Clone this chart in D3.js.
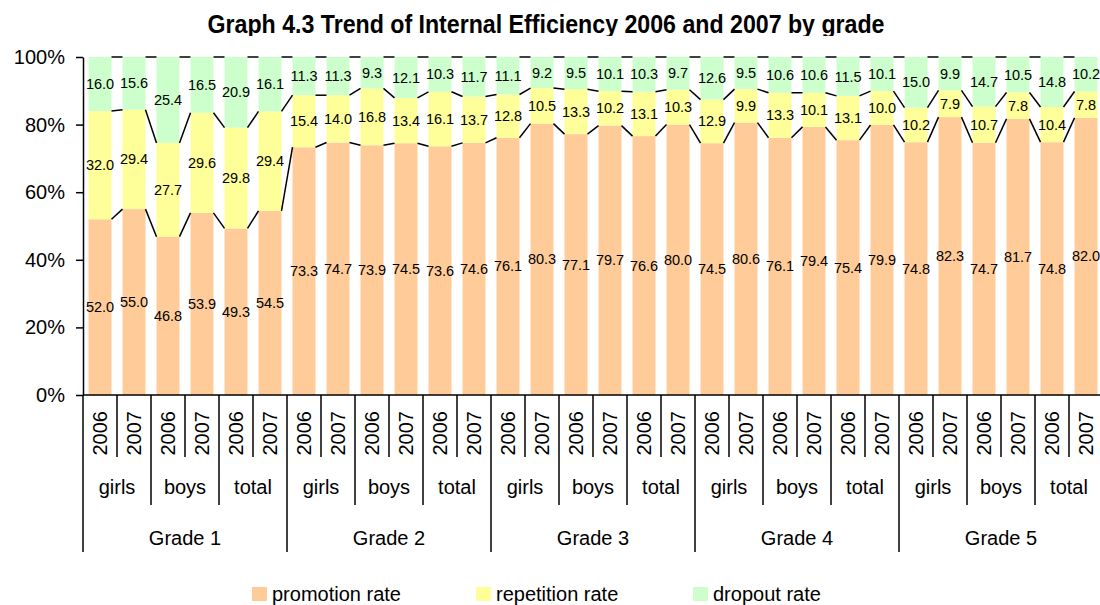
<!DOCTYPE html>
<html>
<head>
<meta charset="utf-8">
<script src="https://cdn.jsdelivr.net/npm/d3@7"></script>
<style>
  body { margin: 0; background: #fff; }
  svg { display: block; font-family: "Liberation Sans", Arial, sans-serif; }
</style>
</head>
<body>
<div id="chart"></div>
<script>
// categories
const grades = ["Grade 1", "Grade 2", "Grade 3", "Grade 4", "Grade 5"];
const groups = ["girls", "boys", "total"];
const years = ["2006", "2007"];

// series values, in bar order (grade > group > year)
const promotion = [
    52.0, 55.0, 46.8, 53.9, 49.3, 54.5,
    73.3, 74.7, 73.9, 74.5, 73.6, 74.6,
    76.1, 80.3, 77.1, 79.7, 76.6, 80.0,
    74.5, 80.6, 76.1, 79.4, 75.4, 79.9,
    74.8, 82.3, 74.7, 81.7, 74.8, 82.0
];
const repetition = [
    32.0, 29.4, 27.7, 29.6, 29.8, 29.4,
    15.4, 14.0, 16.8, 13.4, 16.1, 13.7,
    12.8, 10.5, 13.3, 10.2, 13.1, 10.3,
    12.9, 9.9, 13.3, 10.1, 13.1, 10.0,
    10.2, 7.9, 10.7, 7.8, 10.4, 7.8
];
const dropout = [
    16.0, 15.6, 25.4, 16.5, 20.9, 16.1,
    11.3, 11.3, 9.3, 12.1, 10.3, 11.7,
    11.1, 9.2, 9.5, 10.1, 10.3, 9.7,
    12.6, 9.5, 10.6, 10.6, 11.5, 10.1,
    15.0, 9.9, 14.7, 10.5, 14.8, 10.2
];

const seriesKeys = ["promotion", "repetition", "dropout"];
const seriesNames = ["promotion rate", "repetition rate", "dropout rate"];
const yTicks = [0, 0.2, 0.4, 0.6, 0.8, 1];

const colors = {promotion: "#FFCC99", repetition: "#FFFF99", dropout: "#CCFFCC"};

const width = 1100, height = 605;
const plotLeft = 83, plotRight = 1103, plotTop = 57, plotBottom = 395;

const rows = [];
grades.forEach(g => groups.forEach(s => years.forEach(yr => {
    const i = rows.length;
    rows.push({
        key: g + "|" + s + "|" + yr,
        grade: g, group: s, year: yr,
        promotion: promotion[i], repetition: repetition[i], dropout: dropout[i]
    });
})));

const svg = d3.select("#chart")
    .append("svg")
        .attr("width", width)
        .attr("height", height);

svg.append("rect")
    .attr("width", width)
    .attr("height", height)
    .attr("fill", "#fff");

const x = d3.scaleBand()
    .domain(rows.map(d => d.key))
    .range([plotLeft, plotRight])
    .paddingInner(0.324)
    .paddingOuter(0.162);

const y = d3.scaleLinear()
    .domain([0, 1])
    .range([plotBottom, plotTop]);

const stacked = d3.stack()
    .keys(seriesKeys)
    .offset(d3.stackOffsetExpand)(rows);

// bars
const layers = svg.append("g")
    .selectAll("g")
    .data(stacked)
    .join("g")
        .attr("fill", d => colors[d.key]);

layers.selectAll("rect")
    .data(d => d)
    .join("rect")
        .attr("x", d => x(d.data.key))
        .attr("y", d => y(d[1]))
        .attr("width", x.bandwidth())
        .attr("height", d => y(d[0]) - y(d[1]));

// series lines between neighbouring bars
const links = [];
stacked.forEach(layer => {
    for (let i = 0; i < layer.length - 1; i++) {
        links.push({a: layer[i], b: layer[i + 1]});
    }
});
svg.append("g")
    .selectAll("line")
    .data(links)
    .join("line")
        .attr("x1", d => x(d.a.data.key) + x.bandwidth())
        .attr("y1", d => y(d.a[1]))
        .attr("x2", d => x(d.b.data.key))
        .attr("y2", d => y(d.b[1]))
        .attr("stroke", "#000")
        .attr("stroke-width", 1.5);

// data labels
layers.selectAll("text")
    .data(d => d.map(p => ({p: p, key: d.key})))
    .join("text")
        .attr("x", d => x(d.p.data.key) + x.bandwidth() / 2)
        .attr("y", d => y((d.p[0] + d.p[1]) / 2))
        .attr("dy", "0.35em")
        .attr("text-anchor", "middle")
        .attr("fill", "#000")
        .style("font-size", "14.5px")
        .text(d => d.p.data[d.key].toFixed(1));

// y axis
const yAxis = svg.append("g")
    .attr("transform", "translate(" + plotLeft + ",0)")
    .call(d3.axisLeft(y)
        .tickValues(yTicks)
        .tickFormat(d3.format(".0%"))
        .tickSize(7)
        .tickSizeOuter(0)
        .tickPadding(11));
yAxis.select(".domain").attr("stroke-width", 1.5);
yAxis.selectAll(".tick line").attr("stroke-width", 1.5);
yAxis.selectAll("text")
    .style("font-size", "20px")
    .style("font-family", "Liberation Sans, Arial, sans-serif")
    .attr("fill", "#000");

// x axis (three levels)
const xAxis = svg.append("g");
xAxis.append("line")
    .attr("x1", plotLeft).attr("x2", plotRight)
    .attr("y1", plotBottom).attr("y2", plotBottom)
    .attr("stroke", "#000").attr("stroke-width", 1.5);

const step = x.step();
const edges = d3.range(rows.length + 1).map(i => {
    const depth = i % 6 === 0 ? 552 : i % 2 === 0 ? 505 : 457;
    return {x: plotLeft + i * step, y2: depth};
});
xAxis.selectAll(".sep")
    .data(edges)
    .join("line")
        .attr("class", "sep")
        .attr("x1", d => d.x).attr("x2", d => d.x)
        .attr("y1", plotBottom).attr("y2", d => d.y2)
        .attr("stroke", "#000").attr("stroke-width", 1.5);

xAxis.selectAll(".year")
    .data(rows)
    .join("text")
        .attr("class", "year")
        .attr("transform", d => "translate(" + (x(d.key) + x.bandwidth() / 2) + ",411) rotate(-90)")
        .attr("dy", "0.35em")
        .attr("text-anchor", "end")
        .style("font-size", "20px")
        .text(d => d.year);

const groupCells = [];
grades.forEach((g, gi) => groups.forEach((s, si) => {
    groupCells.push({label: s, idx: gi * 6 + si * 2});
}));
xAxis.selectAll(".group")
    .data(groupCells)
    .join("text")
        .attr("class", "group")
        .attr("x", d => plotLeft + (d.idx + 1) * step)
        .attr("y", 494)
        .attr("text-anchor", "middle")
        .style("font-size", "20px")
        .text(d => d.label);

xAxis.selectAll(".grade")
    .data(grades)
    .join("text")
        .attr("class", "grade")
        .attr("x", (d, i) => plotLeft + (i * 6 + 3) * step)
        .attr("y", 545)
        .attr("text-anchor", "middle")
        .style("font-size", "20px")
        .text(d => d);

// title (clipped at the bottom like the original)
svg.append("clipPath")
    .attr("id", "title-clip")
    .append("rect")
        .attr("x", 0).attr("y", 0)
        .attr("width", width).attr("height", 36);

svg.append("text")
    .attr("clip-path", "url(#title-clip)")
    .attr("x", 546)
    .attr("y", 33)
    .attr("text-anchor", "middle")
    .attr("textLength", 677)
    .attr("lengthAdjust", "spacingAndGlyphs")
    .style("font-family", "'Liberation Sans Narrow', 'Arial Narrow', 'Liberation Sans', sans-serif")
    .style("font-weight", "bold")
    .style("font-size", "25px")
    .text("Graph 4.3 Trend of Internal Efficiency 2006 and 2007 by grade");

// legend
const legendX = [252, 476, 693];
const legend = svg.append("g")
    .selectAll("g")
    .data(seriesKeys)
    .join("g")
        .attr("transform", (d, i) => "translate(" + legendX[i] + ",587)");

legend.append("rect")
    .attr("width", 15)
    .attr("height", 14)
    .attr("fill", d => colors[d]);

legend.append("text")
    .attr("x", 20)
    .attr("y", 14)
    .style("font-size", "20px")
    .text((d, i) => seriesNames[i]);
</script>
</body>
</html>
